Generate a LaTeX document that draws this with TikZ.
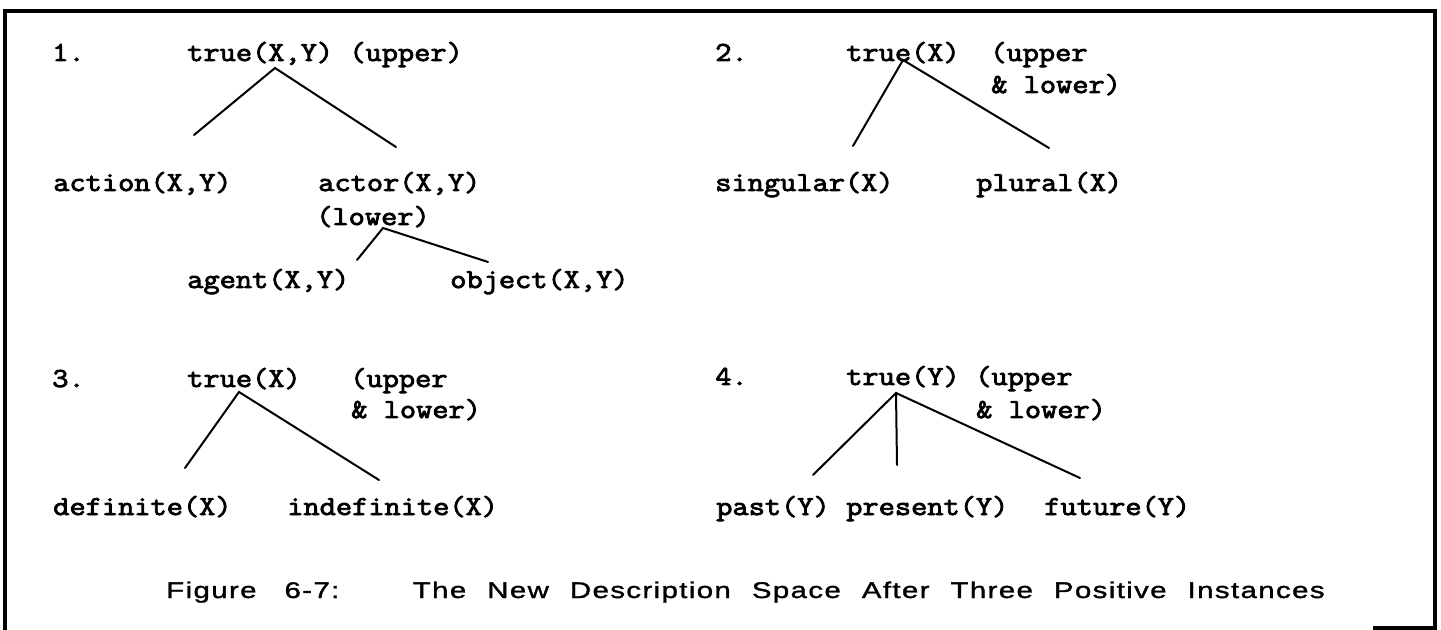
\documentclass[tikz,border=0pt]{standalone}
\usepackage{fontspec}
\newfontfamily\cour[FakeStretch=1.146,FakeBold=3]{Latin Modern Mono}
\newfontfamily\capfont[LetterSpace=6,WordSpace=2.2,FakeStretch=1.3,FakeBold=1.4]{Liberation Sans}
\begin{document}
\begin{tikzpicture}[x=0.75pt,y=-0.75pt,
  lbl/.style={anchor=base west,inner sep=0pt,font=\cour\fontsize{20.6}{24}\selectfont},
  edge/.style={line width=1.5pt,line cap=round},
  frame/.style={line width=2.4pt}]
\useasboundingbox (0,0) rectangle (1441,630);
% frame
\coordinate (fbl) at (5,630);
\coordinate (ftl) at (5,11);
\coordinate (ftr) at (1435,11);
\coordinate (fbr) at (1435,628);
\coordinate (fbe) at (1373,628);
\draw[frame] (fbl) -- (ftl) -- (ftr) -- (fbr) -- (fbe);
% panel 1
\node[lbl] (n1) at (52,61) {1.};
\node[lbl] (t1) at (187,61) {true(X,Y) (upper)};
\node[lbl] (action) at (53,191) {action(X,Y)};
\node[lbl] (actor) at (318,191) {actor(X,Y)};
\node[lbl] (low1) at (316,225) {(lower)};
\node[lbl] (agent) at (187,288) {agent(X,Y)};
\node[lbl] (object) at (450,288) {object(X,Y)};
\coordinate (a1) at (275,68);
\coordinate (a1l) at (194,135);
\coordinate (a1r) at (396,147);
\coordinate (b1) at (383,228);
\coordinate (b1l) at (357,260);
\coordinate (b1r) at (488,262);
\draw[edge] (a1l) -- (a1) -- (a1r);
\draw[edge] (b1l) -- (b1) -- (b1r);
% panel 2
\node[lbl] (n2) at (715,61) {2.};
\node[lbl] (t2) at (846,61) {true(X)};
\node[lbl] (up2) at (990,61) {(upper};
\node[lbl] (lw2) at (991,93) {\& lower)};
\node[lbl] (sing) at (715,191) {singular(X)};
\node[lbl] (plur) at (976,191) {plural(X)};
\coordinate (a2) at (903,60);
\coordinate (a2l) at (853,146);
\coordinate (a2r) at (1049,148);
\draw[edge] (a2l) -- (a2) -- (a2r);
% panel 3
\node[lbl] (n3) at (52,387) {3.};
\node[lbl] (t3) at (187,387) {true(X)};
\node[lbl] (up3) at (350,387) {(upper};
\node[lbl] (lw3) at (351,418) {\& lower)};
\node[lbl] (def) at (53,515) {definite(X)};
\node[lbl] (indef) at (287,515) {indefinite(X)};
\coordinate (a3) at (239,392);
\coordinate (a3l) at (185,468);
\coordinate (a3r) at (379,480);
\draw[edge] (a3l) -- (a3) -- (a3r);
% panel 4
\node[lbl] (n4) at (715,385) {4.};
\node[lbl] (t4) at (846,385) {true(Y)};
\node[lbl] (up4) at (975,385) {(upper};
\node[lbl] (lw4) at (976,418) {\& lower)};
\node[lbl] (past) at (716,515) {past(Y)};
\node[lbl] (pres) at (846,515) {present(Y)};
\node[lbl] (fut) at (1044,515) {future(Y)};
\coordinate (a4) at (896,393);
\coordinate (a4l) at (813,475);
\coordinate (a4m) at (897,465);
\coordinate (a4r) at (1080,478);
\draw[edge] (a4l) -- (a4) -- (a4r);
\draw[edge] (a4) -- (a4m);
% caption
\node[anchor=base west,inner sep=0pt,font=\capfont\fontsize{17}{20}\selectfont] (cap) at (166,598)
  {Figure\hspace{21pt}6-7:\hspace{55pt}The New Description Space After Three Positive Instances};
\end{tikzpicture}
\end{document}
